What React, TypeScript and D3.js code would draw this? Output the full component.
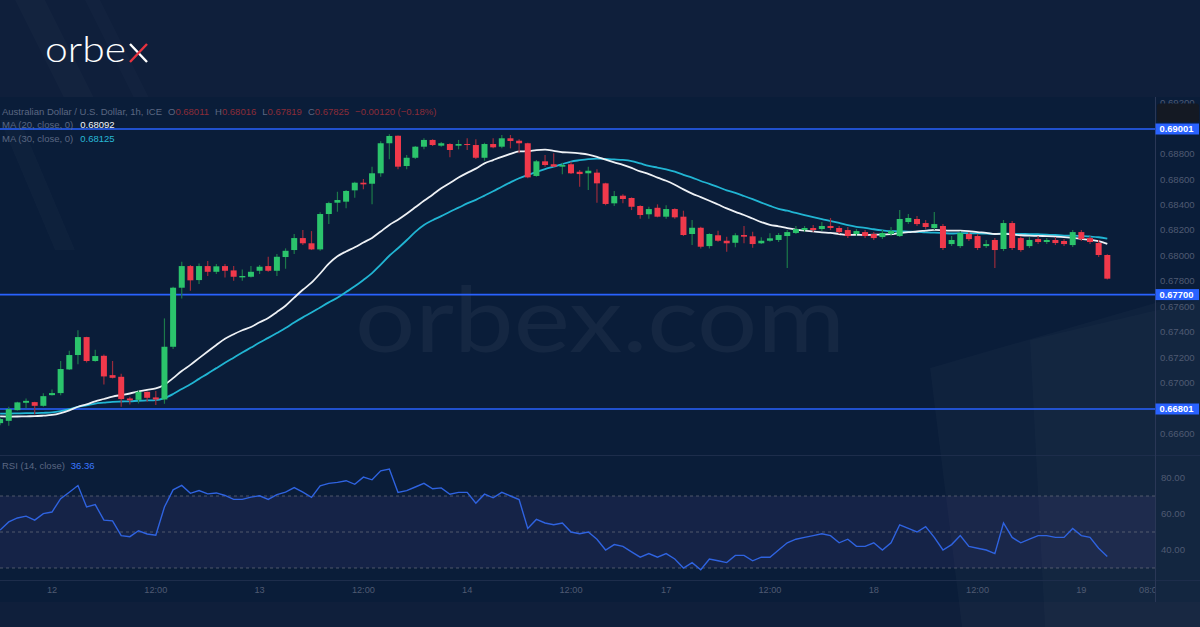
import React from "react";
import * as d3 from "d3";

const W = 1200;
const H = 627;

// ---- Data (AUD/USD, 1h) ----
const opens = [
  0.6669, 0.66708, 0.66792, 0.6685, 0.66855, 0.66826, 0.6691, 0.66926, 0.67112, 0.67225,
  0.67366, 0.67178, 0.67219, 0.67067, 0.67054, 0.66884, 0.66873, 0.66936, 0.66892, 0.66876,
  0.6729, 0.67754, 0.67924, 0.67814, 0.67924, 0.67879, 0.67924, 0.6789, 0.67835, 0.6784,
  0.67887, 0.67924, 0.67887, 0.67995, 0.6805, 0.68144, 0.68103, 0.68055, 0.68333, 0.68422,
  0.6843, 0.68519, 0.68579, 0.68571, 0.68653, 0.68889, 0.68948, 0.6871, 0.68775, 0.68862,
  0.68915, 0.6887, 0.68883, 0.6887, 0.68883, 0.68875, 0.68775, 0.68883, 0.68862, 0.68928,
  0.68909, 0.68889, 0.68632, 0.68747, 0.68724, 0.68705, 0.68724, 0.68665, 0.68653, 0.68658,
  0.68574, 0.68417, 0.68477, 0.68459, 0.68396, 0.68331, 0.68382, 0.68312, 0.68372, 0.68312,
  0.68176, 0.68225, 0.68081, 0.68166, 0.68123, 0.68107, 0.68168, 0.68158, 0.68103, 0.68123,
  0.68129, 0.6816, 0.68184, 0.68207, 0.68223, 0.68215, 0.68239, 0.68223, 0.68207, 0.68176,
  0.68191, 0.68176, 0.68152, 0.68176, 0.6816, 0.6827, 0.68294, 0.68262, 0.68223, 0.68239,
  0.68097, 0.68081, 0.68176, 0.6816, 0.68081, 0.68129, 0.68058, 0.68262, 0.68144, 0.68081,
  0.68136, 0.68113, 0.68129, 0.68121, 0.68089, 0.68191, 0.68144, 0.68105, 0.68011,
];
const highs = [
  0.66737, 0.66818, 0.66858, 0.66884, 0.66857, 0.66924, 0.66955, 0.67178, 0.67258, 0.67419,
  0.67368, 0.67266, 0.6723, 0.67178, 0.67078, 0.66897, 0.6695, 0.66938, 0.66942, 0.67513,
  0.67762, 0.67958, 0.67932, 0.67945, 0.67964, 0.6794, 0.6794, 0.67924, 0.67898, 0.67924,
  0.67932, 0.67997, 0.68019, 0.68063, 0.68176, 0.68207, 0.68199, 0.68346, 0.6843, 0.68508,
  0.68521, 0.68587, 0.68608, 0.68705, 0.68904, 0.68959, 0.6895, 0.68797, 0.68867, 0.68928,
  0.6892, 0.68899, 0.68889, 0.68915, 0.68928, 0.6892, 0.68893, 0.68928, 0.68954, 0.68954,
  0.6892, 0.68893, 0.68757, 0.68797, 0.6881, 0.68736, 0.68744, 0.68679, 0.68705, 0.68684,
  0.68579, 0.68514, 0.68488, 0.68464, 0.68401, 0.6839, 0.68409, 0.68401, 0.68378, 0.68359,
  0.68286, 0.68233, 0.68181, 0.68202, 0.68155, 0.68181, 0.68239, 0.68194, 0.6815, 0.68181,
  0.68184, 0.68207, 0.68239, 0.68239, 0.68246, 0.6827, 0.68302, 0.68239, 0.68231, 0.68215,
  0.68207, 0.68191, 0.68207, 0.68231, 0.68364, 0.68333, 0.68317, 0.68286, 0.68349, 0.68254,
  0.6816, 0.68199, 0.68191, 0.68176, 0.68129, 0.68144, 0.68286, 0.68278, 0.6816, 0.68152,
  0.6816, 0.68144, 0.68152, 0.68136, 0.68207, 0.68207, 0.6816, 0.68129, 0.68016,
];
const lows = [
  0.66674, 0.66669, 0.6679, 0.66806, 0.66759, 0.66818, 0.66908, 0.6691, 0.67107, 0.67152,
  0.67167, 0.67172, 0.66994, 0.67041, 0.66818, 0.66837, 0.66845, 0.66858, 0.66832, 0.66842,
  0.67272, 0.6767, 0.6773, 0.67783, 0.67846, 0.67861, 0.67835, 0.67809, 0.67809, 0.67835,
  0.67861, 0.67879, 0.67846, 0.67903, 0.68019, 0.68089, 0.6805, 0.68044, 0.68254, 0.68351,
  0.68378, 0.68461, 0.68527, 0.68409, 0.68626, 0.68763, 0.68684, 0.68684, 0.68765, 0.68841,
  0.68867, 0.68862, 0.68779, 0.68841, 0.68836, 0.68765, 0.68752, 0.68849, 0.68849, 0.68849,
  0.6881, 0.68614, 0.68626, 0.68705, 0.68703, 0.68645, 0.68647, 0.68548, 0.68522, 0.68422,
  0.68401, 0.68396, 0.68417, 0.68364, 0.68296, 0.68296, 0.68307, 0.68296, 0.68296, 0.6816,
  0.68089, 0.68063, 0.68063, 0.68115, 0.68037, 0.68071, 0.68103, 0.68068, 0.68097, 0.68115,
  0.68113, 0.67908, 0.68176, 0.68191, 0.68191, 0.68199, 0.68207, 0.68176, 0.68144, 0.6816,
  0.68144, 0.68129, 0.68137, 0.6816, 0.68152, 0.68254, 0.68239, 0.68215, 0.68207, 0.6805,
  0.68081, 0.68066, 0.68121, 0.6805, 0.68066, 0.67908, 0.68042, 0.6805, 0.68036, 0.68066,
  0.68097, 0.68097, 0.68089, 0.68081, 0.68074, 0.68121, 0.68097, 0.67995, 0.67819,
];
const closes = [
  0.66722, 0.668, 0.66853, 0.66865, 0.66826, 0.66902, 0.66926, 0.67115, 0.67225, 0.67366,
  0.67178, 0.67217, 0.67057, 0.67046, 0.66879, 0.66869, 0.66936, 0.66889, 0.66876, 0.6729,
  0.67754, 0.67924, 0.67812, 0.67924, 0.67879, 0.67922, 0.67887, 0.6784, 0.67846, 0.67879,
  0.67919, 0.67887, 0.67997, 0.68044, 0.68144, 0.68103, 0.68055, 0.68333, 0.68419, 0.68443,
  0.68514, 0.68579, 0.68566, 0.68653, 0.68889, 0.68946, 0.68705, 0.68775, 0.68862, 0.68915,
  0.68875, 0.68889, 0.68836, 0.68883, 0.68878, 0.68775, 0.68883, 0.68857, 0.68928, 0.68907,
  0.68889, 0.68621, 0.68747, 0.68718, 0.68705, 0.68718, 0.68653, 0.68647, 0.68673, 0.68574,
  0.68412, 0.68474, 0.68451, 0.6839, 0.68325, 0.68372, 0.68312, 0.68372, 0.68307, 0.68168,
  0.68225, 0.68076, 0.68176, 0.68123, 0.68103, 0.68166, 0.68155, 0.68097, 0.68123, 0.68142,
  0.68168, 0.68191, 0.68215, 0.68223, 0.68207, 0.68239, 0.68223, 0.68191, 0.6816, 0.68199,
  0.6816, 0.68144, 0.68184, 0.68199, 0.68294, 0.68302, 0.68254, 0.68231, 0.68254, 0.68066,
  0.68129, 0.68184, 0.68136, 0.68066, 0.68097, 0.6805, 0.68262, 0.68066, 0.6805, 0.68129,
  0.68113, 0.68129, 0.68105, 0.68097, 0.68191, 0.68136, 0.68113, 0.68011, 0.67825,
];
// closes before the first visible bar (needed for the moving averages)
const priorCloses = [
  0.6679, 0.66805, 0.66822, 0.6683, 0.66815, 0.668, 0.66812, 0.66798, 0.66806, 0.66812,
  0.66825, 0.6684, 0.6683, 0.66812, 0.6682, 0.66805, 0.66818, 0.668, 0.6681, 0.668,
  0.6674, 0.6669, 0.6666, 0.6664, 0.6663, 0.6662, 0.6664, 0.6665, 0.667,
];
const rsiValues = [
  51.1, 55.6, 57.8, 58.8, 56.6, 60.2, 61.1, 68.5, 72.1, 75.8,
  63.9, 65.2, 56.6, 56.2, 48.0, 47.4, 50.7, 48.9, 48.2, 63.9,
  73.4, 75.9, 71.5, 73.0, 71.2, 71.7, 70.3, 68.1, 68.1, 69.4,
  70.1, 68.1, 70.8, 72.1, 74.7, 72.1, 69.2, 75.6, 77.0, 77.6,
  78.5, 76.5, 80.5, 79.0, 84.0, 85.0, 72.0, 73.0, 75.0, 77.0,
  74.0, 74.5, 71.0, 72.0, 72.0, 66.0, 71.0, 69.0, 72.0, 70.0,
  68.0, 52.0, 57.0, 55.0, 54.0, 55.0, 50.0, 49.0, 50.0, 46.0,
  40.0, 43.0, 42.0, 39.0, 36.0, 38.0, 36.0, 38.0, 35.0, 30.0,
  33.0, 29.0, 35.0, 34.0, 33.0, 37.0, 37.0, 34.0, 36.0, 36.0,
  40.0, 44.0, 46.0, 47.0, 48.0, 49.0, 48.0, 44.0, 46.0, 42.0,
  42.0, 44.0, 40.0, 44.0, 54.0, 52.0, 50.0, 53.0, 47.0, 40.0,
  43.0, 48.0, 42.0, 41.0, 40.0, 38.0, 55.0, 47.0, 44.0, 46.0,
  48.0, 48.0, 47.0, 47.0, 52.0, 48.0, 47.0, 41.0, 36.36,
];
const priceTicks = [0.692, 0.688, 0.686, 0.684, 0.682, 0.68, 0.678, 0.676, 0.674, 0.672, 0.67, 0.666];
const levelLines = [0.69001, 0.677, 0.66801];
const rsiTicks = [80, 60, 40];
const rsiGuides = [70, 50, 30];
const timeLabels = ["12", "12:00", "13", "12:00", "14", "12:00", "17", "12:00", "18", "12:00", "19", "08:00"];
const timeLabelBars = [6, 18, 30, 42, 54, 66, 77, 89, 101, 113, 125, 133];

const FONT = "'Liberation Sans', Arial, sans-serif";
const UP = "#2bc46c";
const DOWN = "#f0394b";
const UP_WICK = "#1c7a4a";
const DOWN_WICK = "#9a2b3b";

export default function App() {
  const plotRight = 1155;
  const x = d3.scaleLinear().domain([0, 1]).range([0.1, 8.75]);
  const y = d3.scaleLinear().domain([0.66801, 0.69001]).range([409, 129]);
  const yr = d3.scaleLinear().domain([30, 70]).range([568, 496]);

  const all = [...priorCloses, ...closes];
  const sma = (len: number) =>
    closes.map((_, i) => {
      const end = i + priorCloses.length + 1;
      return d3.mean(all.slice(end - len, end)) as number;
    });
  const ma20 = sma(20);
  const ma30 = sma(30);

  const priceLine = d3
    .line<number>()
    .x((_, i) => x(i))
    .y((d) => y(d))
    .curve(d3.curveMonotoneX);
  const rsiLine = d3
    .line<number>()
    .x((_, i) => x(i))
    .y((d) => yr(d));

  const bodyW = 6;

  return (
    <svg width={W} height={H} style={{ display: "block", position: "absolute", left: 0, top: 0 }}>
      <defs>
        <clipPath id="plot">
          <rect x={0} y={97} width={plotRight} height={358} />
        </clipPath>
        <clipPath id="rsiclip">
          <rect x={0} y={456} width={plotRight} height={125} />
        </clipPath>
        <clipPath id="timeclip">
          <rect x={0} y={581} width={plotRight} height={22} />
        </clipPath>
      </defs>
      {/* backgrounds */}
      <rect x={0} y={0} width={W} height={H} fill="#0f1f3b" />
      <polygon points="15,0 45,0 95,100 65,100" fill="#ffffff" opacity={0.02} />
      <polygon points="85,0 100,0 150,100 135,100" fill="#ffffff" opacity={0.015} />
      <rect x={0} y={97} width={W} height={505} fill="#0a1d39" />
      {/* decorative shapes */}
      <polygon points="0,120 20,120 75,250 55,250" fill="#ffffff" opacity={0.02} />
      <polygon points="930,368 1200,290 1200,627 962,627" fill="#ffffff" opacity={0.025} />
      <polygon points="1030,340 1200,300 1200,627 1045,627" fill="#ffffff" opacity={0.02} />

      {/* logo */}
      <text x={45} y={62} fontFamily="Lato, 'Open Sans', sans-serif" fontWeight={300} fontSize={36} fill="#ffffff" textLength={81} lengthAdjust="spacingAndGlyphs">
        orbe
      </text>
      <line x1={130} y1={44} x2={147} y2={62} stroke="#ffffff" strokeWidth={2.4} />
      <line x1={130} y1={62} x2={147} y2={44} stroke="#e8323f" strokeWidth={2.4} />

      {/* watermark */}
      <text x={355} y={352} fontFamily="Lato, 'Open Sans', sans-serif" fontWeight={400} fontSize={92} fill="#ffffff" opacity={0.045} textLength={490} lengthAdjust="spacingAndGlyphs">
        orbex.com
      </text>

      {/* RSI band */}
      <rect x={0} y={yr(70)} width={plotRight} height={yr(30) - yr(70)} fill="#7e57c2" opacity={0.1} />
      {rsiGuides.map((v) => (
        <line key={v} x1={0} x2={plotRight} y1={yr(v)} y2={yr(v)} stroke="#787b86" strokeOpacity={0.6} strokeDasharray="3 3" />
      ))}

      {/* pane separators */}
      <line x1={0} x2={W} y1={455.5} y2={455.5} stroke="#1d2d4b" />
      <line x1={0} x2={W} y1={580.5} y2={580.5} stroke="#1d2d4b" />
      <line x1={plotRight + 0.5} x2={plotRight + 0.5} y1={97} y2={602} stroke="#2a3756" />

      {/* price pane */}
      <g clipPath="url(#plot)">
        {levelLines.map((v) => (
          <line key={v} x1={0} x2={plotRight} y1={y(v)} y2={y(v)} stroke="#2962ff" strokeWidth={1.6} />
        ))}
        <path d={priceLine(ma30) || ""} fill="none" stroke="#21b5d3" strokeWidth={1.8} />
        <path d={priceLine(ma20) || ""} fill="none" stroke="#eef1f5" strokeWidth={1.8} />
        {closes.map((c, i) => {
          const o = opens[i];
          const up = c >= o;
          const top = y(Math.max(o, c));
          const h = Math.max(1, Math.abs(y(o) - y(c)));
          return (
            <g key={i}>
              <line x1={x(i)} x2={x(i)} y1={y(highs[i])} y2={y(lows[i])} stroke={up ? UP_WICK : DOWN_WICK} strokeWidth={1.2} />
              <rect x={x(i) - bodyW / 2} y={top} width={bodyW} height={h} fill={up ? UP : DOWN} />
            </g>
          );
        })}
      </g>

      {/* legend */}
      <g fontFamily={FONT} fontSize={9.5}>
        <text x={2} y={115} fill="#5b6782">
          Australian Dollar / U.S. Dollar, 1h, ICE
          <tspan dx={6}>O</tspan>
          <tspan fill="#8a2c38">0.68011</tspan>
          <tspan dx={6}>H</tspan>
          <tspan fill="#8a2c38">0.68016</tspan>
          <tspan dx={6}>L</tspan>
          <tspan fill="#8a2c38">0.67819</tspan>
          <tspan dx={6}>C</tspan>
          <tspan fill="#8a2c38">0.67825</tspan>
          <tspan dx={6} fill="#8a2c38">−0.00120 (−0.18%)</tspan>
        </text>
        <text x={2} y={128} fill="#5b6782">
          MA (20, close, 0)
          <tspan dx={7} fill="#f2f4f8">0.68092</tspan>
        </text>
        <text x={2} y={141.5} fill="#5b6782">
          MA (30, close, 0)
          <tspan dx={7} fill="#27b8d6">0.68125</tspan>
        </text>
        <text x={2} y={469} fill="#5b6782">
          RSI (14, close)
          <tspan dx={6} fill="#3b78ff">36.36</tspan>
        </text>
      </g>

      {/* RSI line */}
      <g clipPath="url(#rsiclip)">
        <path d={rsiLine(rsiValues) || ""} fill="none" stroke="#2f63e0" strokeWidth={1.4} />
      </g>

      {/* price axis */}
      <g fontFamily={FONT} fontSize={9.6} fill="#4f5a72">
        {priceTicks.map((v) => (
          <text key={v} x={1160} y={y(v)} dominantBaseline="middle">
            {v.toFixed(5)}
          </text>
        ))}
        {rsiTicks.map((v) => (
          <text key={v} x={1161} y={yr(v)} dominantBaseline="middle">
            {v.toFixed(2)}
          </text>
        ))}
      </g>
      <rect x={1157} y={103.5} width={42} height={18.5} rx={3} fill="#141923" />
      {levelLines.map((v) => (
        <g key={v}>
          <rect x={1155.5} y={y(v) - 5.5} width={43.5} height={11} fill="#2962ff" />
          <text x={1159.5} y={y(v) + 0.5} dominantBaseline="middle" fontFamily={FONT} fontSize={9.4} fontWeight={700} fill="#ffffff">
            {v.toFixed(5)}
          </text>
        </g>
      ))}

      {/* time axis */}
      <g clipPath="url(#timeclip)" fontFamily={FONT} fontSize={9.2} fill="#4f5a72">
        {timeLabels.map((t, k) => (
          <text key={k} x={x(timeLabelBars[k])} y={591} textAnchor="middle" dominantBaseline="middle">
            {t}
          </text>
        ))}
      </g>
    </svg>
  );
}
